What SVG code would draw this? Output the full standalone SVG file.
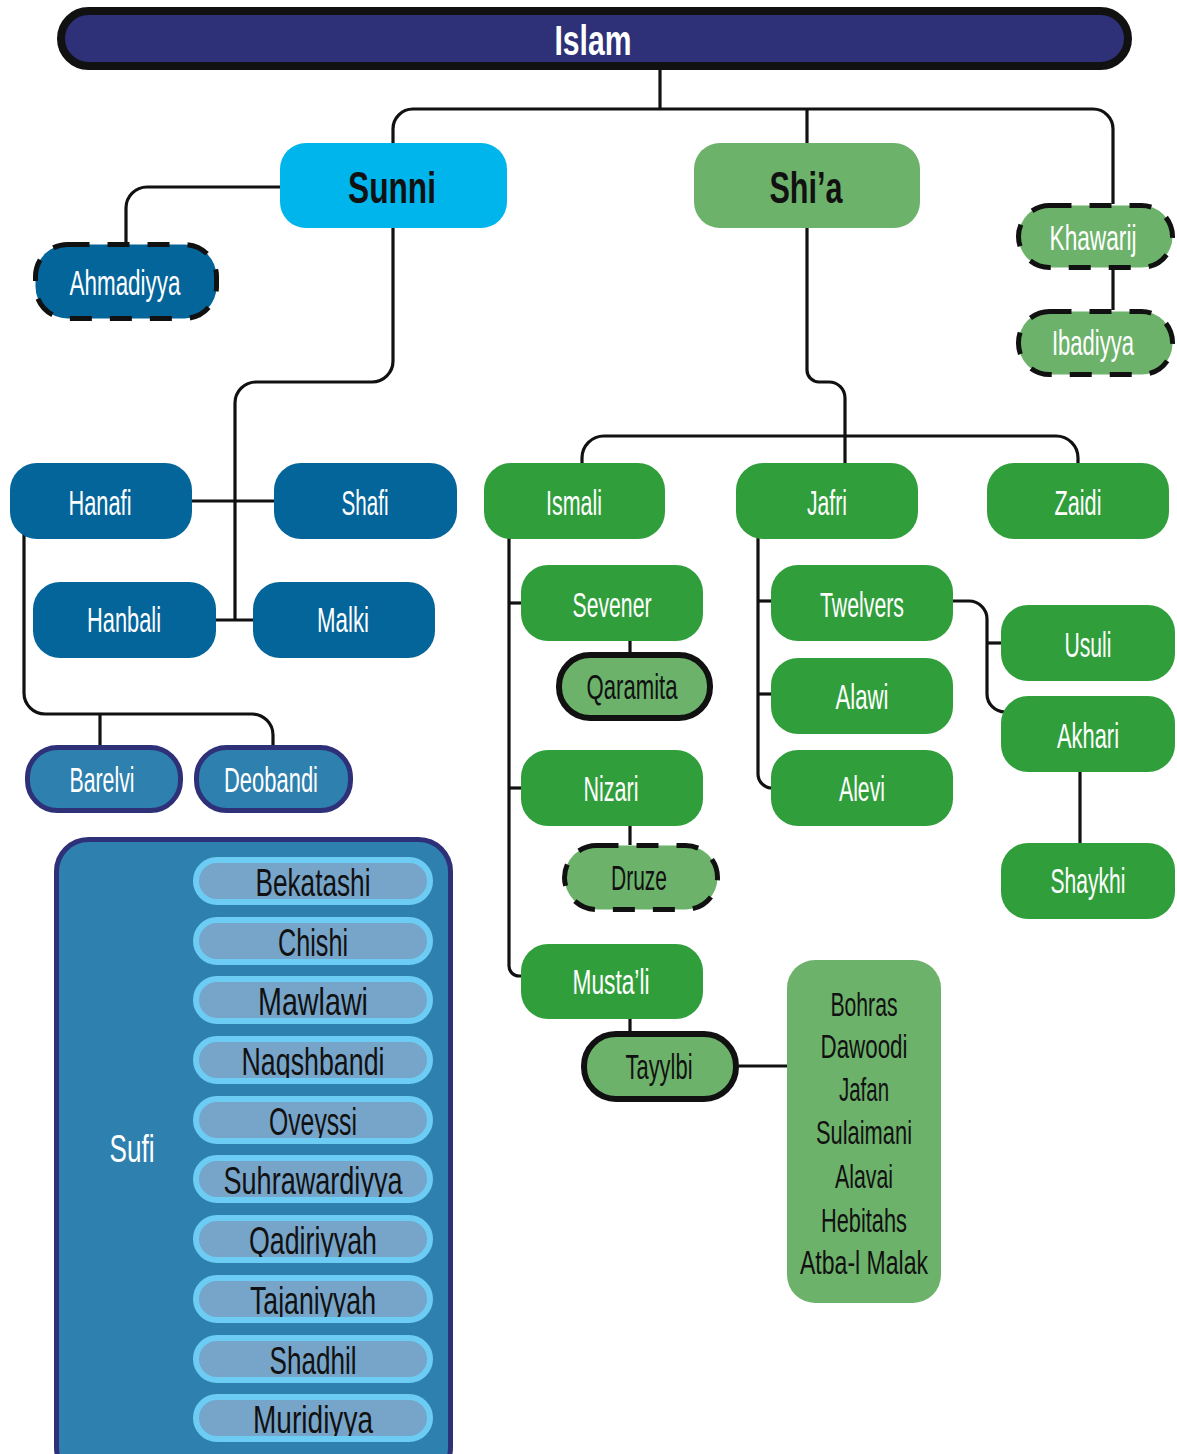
<svg xmlns="http://www.w3.org/2000/svg" width="1177" height="1454" viewBox="0 0 1177 1454">
<style>
text{font-family:"Liberation Sans","DejaVu Sans",sans-serif;text-anchor:middle}
.lbl{font-size:35px;fill:#ffffff}
.dk{fill:#111111}
.hd{font-size:44px;font-weight:bold;fill:#111111}
.lst{font-size:34px;fill:#111111}
.sf{font-size:39px;fill:#111111}
.c{fill:none;stroke:#111111;stroke-width:3.2}
.blue{fill:#04659a}
.green{fill:#319e3c}
.lgreen{fill:#6db26b}
.mid{fill:#2e80ae;stroke:#2e3078;stroke-width:5}
.dash{stroke:#111111;stroke-width:5;stroke-dasharray:22 18}
.solid{stroke:#111111;stroke-width:6}
.pf{fill:#77a4c9}
.pr{fill:none;stroke:#6dccf4;stroke-width:6}
</style>
<g id="connectors">
<path class="c" d="M660,69 V109"/>
<path class="c" d="M393,143 V129 A20,20 0 0 1 413,109 H1093 A20,20 0 0 1 1113,129 V204"/>
<path class="c" d="M807,109 V143"/>
<path class="c" d="M1113,270 V310"/>
<path class="c" d="M280,187 H147 A21,21 0 0 0 126,208 V243"/>
<path class="c" d="M393,228 V361 A21,21 0 0 1 372,382 H256 A21,21 0 0 0 235,403 V620"/>
<path class="c" d="M192,501 H274"/>
<path class="c" d="M216,620 H253"/>
<path class="c" d="M24,530 V693 A21,21 0 0 0 45,714 H252 A21,21 0 0 1 273,735 V745"/>
<path class="c" d="M100,714 V745"/>
<path class="c" d="M807,228 V370 A12,12 0 0 0 819,382 H829 A16,16 0 0 1 845,398 V463"/>
<path class="c" d="M582,463 V458 A22,22 0 0 1 604,436 H1056 A22,22 0 0 1 1078,458 V463"/>
<path class="c" d="M509,530 V966 A10,10 0 0 0 519,976 H522"/>
<path class="c" d="M509,603 H522"/>
<path class="c" d="M509,788 H522"/>
<path class="c" d="M630,641 V655"/>
<path class="c" d="M630,826 V845"/>
<path class="c" d="M630,1019 V1033"/>
<path class="c" d="M739,1066 H787"/>
<path class="c" d="M758,530 V774 A14,14 0 0 0 772,788"/>
<path class="c" d="M758,601 H772"/>
<path class="c" d="M758,694 H772"/>
<path class="c" d="M953,601 H969 A18,18 0 0 1 987,619 V694 A18,18 0 0 0 1005,712"/>
<path class="c" d="M987,643 H1001"/>
<path class="c" d="M1080,772 V843"/>
</g>
<g id="islam"><rect x="61" y="11" width="1067" height="55" rx="27.5" fill="#2e3078" stroke="#111111" stroke-width="8"/><text x="593" y="55" style="font-size:42px;font-weight:bold;fill:#ffffff" textLength="77" lengthAdjust="spacingAndGlyphs">Islam</text></g>
<g id="sunni"><rect x="280" y="143" width="227" height="85" rx="26" fill="#00b4ec"/><text class="hd" x="392" y="203" textLength="88" lengthAdjust="spacingAndGlyphs">Sunni</text></g>
<g id="shia"><rect x="694" y="143" width="226" height="85" rx="26" class="lgreen"/><text class="hd" x="806" y="203" textLength="73" lengthAdjust="spacingAndGlyphs">Shi’a</text></g>
<g id="ahmadiyya"><rect x="35.5" y="244.5" width="181" height="74" rx="32" class="blue dash"/><text class="lbl" x="125" y="295" textLength="111" lengthAdjust="spacingAndGlyphs">Ahmadiyya</text></g>
<g id="khawarij"><rect x="1018.5" y="205.5" width="154" height="62" rx="31" class="lgreen dash"/><text class="lbl" x="1093" y="250" textLength="87" lengthAdjust="spacingAndGlyphs">Khawarij</text></g>
<g id="ibadiyya"><rect x="1018.5" y="311.5" width="154" height="63" rx="31" class="lgreen dash"/><text class="lbl" x="1093" y="355" textLength="82" lengthAdjust="spacingAndGlyphs">Ibadiyya</text></g>
<g id="hanafi"><rect x="10" y="463" width="182" height="76" rx="27" class="blue"/><text class="lbl" x="100" y="515" textLength="63" lengthAdjust="spacingAndGlyphs">Hanafi</text></g>
<g id="shafi"><rect x="274" y="463" width="183" height="76" rx="27" class="blue"/><text class="lbl" x="365" y="515" textLength="47" lengthAdjust="spacingAndGlyphs">Shafi</text></g>
<g id="hanbali"><rect x="33" y="582" width="183" height="76" rx="27" class="blue"/><text class="lbl" x="124" y="632" textLength="74" lengthAdjust="spacingAndGlyphs">Hanbali</text></g>
<g id="malki"><rect x="253" y="582" width="182" height="76" rx="27" class="blue"/><text class="lbl" x="343" y="632" textLength="52" lengthAdjust="spacingAndGlyphs">Malki</text></g>
<g id="barelvi"><rect x="27.5" y="747.5" width="153" height="63" rx="30" class="mid"/><text class="lbl" x="102" y="792" textLength="65" lengthAdjust="spacingAndGlyphs">Barelvi</text></g>
<g id="deobandi"><rect x="196.5" y="747.5" width="154" height="63" rx="30" class="mid"/><text class="lbl" x="271" y="792" textLength="94" lengthAdjust="spacingAndGlyphs">Deobandi</text></g>
<g id="ismali"><rect x="484" y="463" width="181" height="76" rx="27" class="green"/><text class="lbl" x="574" y="515" textLength="56" lengthAdjust="spacingAndGlyphs">Ismali</text></g>
<g id="jafri"><rect x="736" y="463" width="182" height="76" rx="27" class="green"/><text class="lbl" x="827" y="515" textLength="40" lengthAdjust="spacingAndGlyphs">Jafri</text></g>
<g id="zaidi"><rect x="987" y="463" width="182" height="76" rx="27" class="green"/><text class="lbl" x="1078" y="515" textLength="47" lengthAdjust="spacingAndGlyphs">Zaidi</text></g>
<g id="sevener"><rect x="521" y="565" width="182" height="76" rx="27" class="green"/><text class="lbl" x="612" y="617" textLength="79" lengthAdjust="spacingAndGlyphs">Sevener</text></g>
<g id="qaramita"><rect x="559" y="655" width="151" height="63" rx="31" class="lgreen solid"/><text class="lbl dk" x="632" y="699" textLength="91" lengthAdjust="spacingAndGlyphs">Qaramita</text></g>
<g id="nizari"><rect x="521" y="750" width="182" height="76" rx="27" class="green"/><text class="lbl" x="611" y="801" textLength="55" lengthAdjust="spacingAndGlyphs">Nizari</text></g>
<g id="druze"><rect x="564.5" y="845.5" width="153" height="64" rx="32" class="lgreen dash"/><text class="lbl dk" x="639" y="890" textLength="56" lengthAdjust="spacingAndGlyphs">Druze</text></g>
<g id="mustali"><rect x="521" y="944" width="182" height="75" rx="27" class="green"/><text class="lbl" x="611" y="994" textLength="77" lengthAdjust="spacingAndGlyphs">Musta’li</text></g>
<g id="tayylbi"><rect x="584" y="1034" width="152" height="65" rx="32" class="lgreen solid"/><text class="lbl dk" x="659" y="1079" textLength="67" lengthAdjust="spacingAndGlyphs">Tayylbi</text></g>
<g id="twelvers"><rect x="771" y="565" width="182" height="76" rx="27" class="green"/><text class="lbl" x="862" y="617" textLength="84" lengthAdjust="spacingAndGlyphs">Twelvers</text></g>
<g id="alawi"><rect x="771" y="658" width="182" height="76" rx="27" class="green"/><text class="lbl" x="862" y="709" textLength="53" lengthAdjust="spacingAndGlyphs">Alawi</text></g>
<g id="alevi"><rect x="771" y="750" width="182" height="76" rx="27" class="green"/><text class="lbl" x="862" y="801" textLength="46" lengthAdjust="spacingAndGlyphs">Alevi</text></g>
<g id="usuli"><rect x="1001" y="605" width="174" height="76" rx="27" class="green"/><text class="lbl" x="1088" y="657" textLength="47" lengthAdjust="spacingAndGlyphs">Usuli</text></g>
<g id="akhari"><rect x="1001" y="696" width="174" height="76" rx="27" class="green"/><text class="lbl" x="1088" y="748" textLength="62" lengthAdjust="spacingAndGlyphs">Akhari</text></g>
<g id="shaykhi"><rect x="1001" y="843" width="174" height="76" rx="27" class="green"/><text class="lbl" x="1088" y="893" textLength="75" lengthAdjust="spacingAndGlyphs">Shaykhi</text></g>
<g id="tayylbi-list"><rect x="787" y="960" width="154" height="343" rx="28" class="lgreen"/>
<text class="lst" x="864" y="1016" textLength="67" lengthAdjust="spacingAndGlyphs">Bohras</text>
<text class="lst" x="864" y="1058" textLength="87" lengthAdjust="spacingAndGlyphs">Dawoodi</text>
<text class="lst" x="864" y="1101" textLength="50" lengthAdjust="spacingAndGlyphs">Jafan</text>
<text class="lst" x="864" y="1144" textLength="96" lengthAdjust="spacingAndGlyphs">Sulaimani</text>
<text class="lst" x="864" y="1188" textLength="58" lengthAdjust="spacingAndGlyphs">Alavai</text>
<text class="lst" x="864" y="1232" textLength="86" lengthAdjust="spacingAndGlyphs">Hebitahs</text>
<text class="lst" x="864" y="1274" textLength="128" lengthAdjust="spacingAndGlyphs">Atba-l Malak</text>
</g>
<g id="sufi"><rect x="56.5" y="839.5" width="394" height="640" rx="32" class="mid"/>
<text x="132" y="1162" style="font-size:39px;fill:#ffffff" textLength="45" lengthAdjust="spacingAndGlyphs">Sufi</text>
<g id="bekatashi"><rect x="196" y="860" width="234" height="42" rx="21" class="pf"/><text class="sf" x="313" y="896" textLength="115" lengthAdjust="spacingAndGlyphs">Bekatashi</text><rect x="196" y="860" width="234" height="42" rx="21" class="pr"/></g>
<g id="chishi"><rect x="196" y="920" width="234" height="42" rx="21" class="pf"/><text class="sf" x="313" y="956" textLength="70" lengthAdjust="spacingAndGlyphs">Chishi</text><rect x="196" y="920" width="234" height="42" rx="21" class="pr"/></g>
<g id="mawlawi"><rect x="196" y="979" width="234" height="42" rx="21" class="pf"/><text class="sf" x="313" y="1015" textLength="110" lengthAdjust="spacingAndGlyphs">Mawlawi</text><rect x="196" y="979" width="234" height="42" rx="21" class="pr"/></g>
<g id="naqshbandi"><rect x="196" y="1039" width="234" height="42" rx="21" class="pf"/><text class="sf" x="313" y="1075" textLength="143" lengthAdjust="spacingAndGlyphs">Naqshbandi</text><rect x="196" y="1039" width="234" height="42" rx="21" class="pr"/></g>
<g id="oveyssi"><rect x="196" y="1099" width="234" height="42" rx="21" class="pf"/><text class="sf" x="313" y="1135" textLength="88" lengthAdjust="spacingAndGlyphs">Oveyssi</text><rect x="196" y="1099" width="234" height="42" rx="21" class="pr"/></g>
<g id="suhrawardiyya"><rect x="196" y="1158" width="234" height="42" rx="21" class="pf"/><text class="sf" x="313" y="1194" textLength="179" lengthAdjust="spacingAndGlyphs">Suhrawardiyya</text><rect x="196" y="1158" width="234" height="42" rx="21" class="pr"/></g>
<g id="qadiriyyah"><rect x="196" y="1218" width="234" height="42" rx="21" class="pf"/><text class="sf" x="313" y="1254" textLength="128" lengthAdjust="spacingAndGlyphs">Qadiriyyah</text><rect x="196" y="1218" width="234" height="42" rx="21" class="pr"/></g>
<g id="tajaniyyah"><rect x="196" y="1278" width="234" height="42" rx="21" class="pf"/><text class="sf" x="313" y="1314" textLength="126" lengthAdjust="spacingAndGlyphs">Tajaniyyah</text><rect x="196" y="1278" width="234" height="42" rx="21" class="pr"/></g>
<g id="shadhil"><rect x="196" y="1338" width="234" height="42" rx="21" class="pf"/><text class="sf" x="313" y="1374" textLength="87" lengthAdjust="spacingAndGlyphs">Shadhil</text><rect x="196" y="1338" width="234" height="42" rx="21" class="pr"/></g>
<g id="muridiyya"><rect x="196" y="1397" width="234" height="42" rx="21" class="pf"/><text class="sf" x="313" y="1433" textLength="120" lengthAdjust="spacingAndGlyphs">Muridiyya</text><rect x="196" y="1397" width="234" height="42" rx="21" class="pr"/></g>
</g>
</svg>
